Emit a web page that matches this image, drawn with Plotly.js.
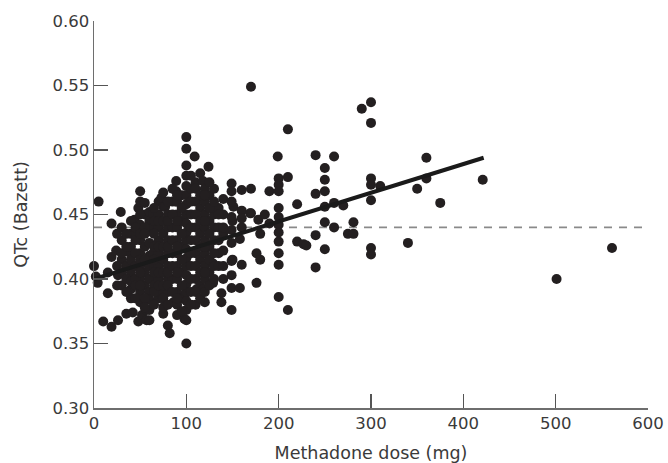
<!DOCTYPE html>
<html>
<head>
<meta charset="utf-8">
<script src="https://cdn.plot.ly/plotly-3.0.1.min.js"></script>
<style>html,body{margin:0;padding:0;background:#fff;}#chart{width:668px;height:463px;}</style>
</head>
<body>
<div id="chart"></div>
<script>
// Methadone dose (mg) for each patient
var doseMg = [
  0,2,4,5,10,15,15,19,19,19,24,26,26,29,30,30,30,35,35,37,
  40,40,40,40,40,42,44,44,48,48,50,50,50,50,50,50,50,50,50,52,
  55,55,55,55,55,57,57,
  60,60,60,60,60,60,60,60,60,60,60,
  64,64,64,65,65,
  70,70,70,70,70,70,70,70,70,
  73,73,75,75,75,77,75,75,
  80,80,80,80,80,80,80,80,82,
  85,85,85,85,86,89,89,89,
  90,90,90,90,90,90,90,90,90,
  95,95,95,95,95,98,98,
  100,100,100,100,100,100,100,100,100,100,100,100,100,100,100,100,100,100,100,100,100,
  105,105,105,105,105,109,
  110,110,110,110,110,110,111,
  115,115,115,115,115,118,118,
  120,120,120,120,120,120,120,120,120,
  124,125,125,125,125,129,129,130,130,130,130,
  135,135,135,140,140,140,140,138,138,
  149,149,149,149,149,149,151,150,150,149,149,149,149,
  160,160,160,158,160,158,160,
  170,170,170,169,
  176,176,178,180,180,185,
  190,190,
  199,200,200,200,200,200,200,200,200,200,200,200,
  210,210,210,220,220,227,230,
  240,240,240,240,250,250,250,250,250,250,260,260,260,270,275,281,281,
  290,300,300,300,300,300,300,300,310,
  340,350,360,360,375,421,501,561,
  25,25,25,30,30,30,35,35,35,35,40,40,40,
  45,45,45,45,45,45,45,50,50,50,50,50,55,55,55,55,55,
  65,65,65,65,65,65,65,65,70,70,70,70,
  75,75,75,75,75,75,80,80,80,80,80,80,
  85,85,85,85,85,90,90,90,90,90,90,95,95,95,95,95,
  105,105,105,105,105,105,110,110,110,110,110,
  115,115,115,115,115,120,120,120,120,120,
  125,125,125,125,125,130,130,130,130,135,135,135,140,140,140
];
// QTc (Bazett), seconds, same order as doseMg
var qtcBazett = [
  0.410,0.402,0.397,0.460,0.367,0.389,0.405,0.443,0.417,0.363,0.422,0.368,0.403,0.452,0.430,0.415,0.395,0.373,0.410,0.421,
  0.435,0.425,0.405,0.392,0.385,0.374,0.446,0.434,0.455,0.367,0.468,0.460,0.442,0.430,0.420,0.410,0.400,0.390,0.382,0.372,
  0.459,0.450,0.425,0.405,0.395,0.376,0.368,
  0.452,0.445,0.437,0.428,0.418,0.410,0.400,0.390,0.384,0.376,0.368,
  0.451,0.440,0.420,0.410,0.395,
  0.460,0.450,0.440,0.430,0.420,0.410,0.400,0.390,0.385,
  0.463,0.388,0.467,0.456,0.373,0.456,0.415,0.435,
  0.450,0.440,0.430,0.420,0.410,0.400,0.390,0.364,0.358,
  0.460,0.440,0.420,0.400,0.382,0.476,0.468,0.460,
  0.450,0.440,0.430,0.420,0.410,0.400,0.390,0.380,0.372,
  0.465,0.445,0.425,0.405,0.385,0.369,0.386,
  0.510,0.501,0.488,0.480,0.472,0.465,0.458,0.450,0.443,0.436,0.430,0.423,0.416,0.410,0.403,0.396,0.390,0.383,0.376,0.368,0.350,
  0.470,0.450,0.430,0.410,0.390,0.495,
  0.475,0.460,0.440,0.420,0.400,0.380,0.392,
  0.482,0.455,0.435,0.415,0.395,0.476,0.392,
  0.470,0.460,0.450,0.440,0.430,0.420,0.410,0.400,0.382,
  0.487,0.465,0.445,0.425,0.405,0.412,0.397,0.470,0.450,0.430,0.440,
  0.440,0.420,0.455,0.462,0.450,0.435,0.422,0.389,0.382,
  0.474,0.468,0.438,0.428,0.403,0.376,0.456,0.445,0.415,0.460,0.448,0.414,0.393,
  0.469,0.453,0.440,0.431,0.411,0.393,0.447,
  0.470,0.451,0.549,0.451,
  0.420,0.397,0.446,0.435,0.415,0.450,
  0.468,0.443,
  0.495,0.478,0.473,0.468,0.455,0.448,0.442,0.436,0.429,0.420,0.411,0.386,
  0.516,0.479,0.376,0.458,0.429,0.427,0.426,
  0.496,0.466,0.434,0.409,0.486,0.477,0.468,0.456,0.444,0.423,0.495,0.459,0.440,0.457,0.435,0.444,0.435,
  0.532,0.537,0.521,0.478,0.473,0.461,0.424,0.419,0.472,
  0.428,0.470,0.494,0.478,0.459,0.477,0.400,0.424,
  0.410,0.395,0.435,0.440,0.420,0.405,0.425,0.435,0.400,0.390,0.445,0.415,0.398,
  0.440,0.430,0.420,0.410,0.400,0.395,0.385,0.450,0.435,0.415,0.405,0.395,0.440,0.435,0.415,0.385,0.378,
  0.455,0.445,0.435,0.425,0.415,0.405,0.390,0.380,0.445,0.425,0.405,0.395,
  0.445,0.425,0.405,0.395,0.385,0.378,0.445,0.425,0.405,0.395,0.380,0.460,
  0.450,0.430,0.410,0.390,0.470,0.445,0.425,0.405,0.385,0.460,0.465,0.455,0.435,0.415,0.395,0.375,
  0.460,0.440,0.420,0.400,0.380,0.480,0.450,0.430,0.410,0.390,0.470,
  0.465,0.445,0.425,0.405,0.385,0.445,0.425,0.405,0.390,0.465,
  0.455,0.435,0.415,0.395,0.475,0.460,0.420,0.410,0.400,0.450,0.430,0.410,0.440,0.410,0.400
];
// Fitted regression line end points
var fitDose = [0, 422];
var fitQtc = [0.400, 0.494];
// Reference threshold (dashed)
var refDose = [0, 600];
var refQtc = [0.44, 0.44];

var xTicks = [0,100,200,300,400,500,600];
var yTicks = [0.30,0.35,0.40,0.45,0.50,0.55,0.60];
var yTickText = ['0.30','0.35','0.40','0.45','0.50','0.55','0.60'];

var fontFam = '"DejaVu Sans", sans-serif';
var traces = [
  {x: refDose, y: refQtc, mode: 'lines', type: 'scatter', hoverinfo: 'skip',
   line: {color: '#8a8a8a', width: 1.6, dash: '8px,7px'}, cliponaxis: false},
  {x: doseMg, y: qtcBazett, mode: 'markers', type: 'scatter',
   marker: {color: '#231f20', size: 10, line: {width: 0}}, cliponaxis: false},
  {x: fitDose, y: fitQtc, mode: 'lines', type: 'scatter',
   line: {color: '#1a1a1a', width: 4}, cliponaxis: false}
];
var axisCommon = {
  showgrid: false, zeroline: false, showline: true, linecolor: '#6e6e6e', linewidth: 1.5,
  ticks: 'inside', ticklen: 14, tickwidth: 1.3, tickcolor: '#555',
  tickfont: {family: fontFam, size: 16.5, color: '#3a3a3a'}
};
var layout = {
  width: 668, height: 463,
  margin: {l: 94, r: 20, t: 21, b: 55},
  paper_bgcolor: '#fff', plot_bgcolor: '#fff',
  showlegend: false,
  xaxis: Object.assign({}, axisCommon, {
    range: [0, 600], tickvals: xTicks,
    title: {text: 'Methadone dose (mg)', font: {family: fontFam, size: 17.5, color: '#3a3a3a'}, standoff: 14}
  }),
  yaxis: Object.assign({}, axisCommon, {
    range: [0.30, 0.60], tickvals: yTicks, ticktext: yTickText,
    title: {text: 'QTc (Bazett)', font: {family: fontFam, size: 17.5, color: '#3a3a3a'}, standoff: 20}
  })
};
Plotly.newPlot('chart', traces, layout, {staticPlot: true, displayModeBar: false});
</script>
</body>
</html>
